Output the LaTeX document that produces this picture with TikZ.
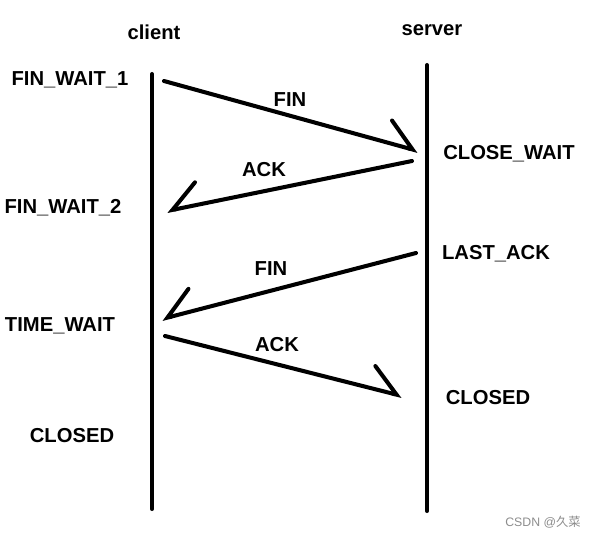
\documentclass[tikz,border=0pt]{standalone}
\usepackage{fontspec}
\setmainfont{Liberation Sans}
\newfontfamily\cjkfont{Noto Sans CJK SC}
\usetikzlibrary{arrows.meta}

\tikzset{
    lifeline/.style={line width=2.3pt, line cap=round},
    msg/.style={line width=2.3pt, line cap=round,
        -{Straight Barb[harpoon, length=0.55cm, width=0.9cm, line cap=round]}},
    msgswap/.style={line width=2.3pt, line cap=round,
        -{Straight Barb[harpoon, swap, length=0.55cm, width=0.9cm, line cap=round]}},
    lbl/.style={font=\fontsize{11.5}{13}\selectfont\bfseries, inner sep=0pt}
}

\begin{document}
\begin{tikzpicture}[x=0.02cm, y=-0.02cm]
    \useasboundingbox (0,0) rectangle (589,538);

    % lifelines
    \coordinate (ctop) at (152,74);
    \coordinate (cbot) at (152,509);
    \coordinate (stop) at (427,65);
    \coordinate (sbot) at (427,511);
    \draw[lifeline] (ctop) -- (cbot);
    \draw[lifeline] (stop) -- (sbot);

    \node[lbl] (client) at (154,32) {client};
    \node[lbl] (server) at (432,30) {server};

    % states
    \node[lbl] (finwaita) at (70,80) {FIN\_WAIT\_1};
    \node[lbl] (finwaitb) at (63,208) {FIN\_WAIT\_2};
    \node[lbl] (timewait) at (60,326) {TIME\_WAIT};
    \node[lbl] (cclosed) at (72,436) {CLOSED};
    \node[lbl] (closewait) at (509,154) {CLOSE\_WAIT};
    \node[lbl] (lastack) at (496,254) {LAST\_ACK};
    \node[lbl] (sclosed) at (488,398) {CLOSED};

    % message ends
    \coordinate (m1a) at (164,81);
    \coordinate (m1b) at (418,151);
    \coordinate (m2a) at (412,161);
    \coordinate (m2b) at (167,211);
    \coordinate (m3a) at (416,253);
    \coordinate (m3b) at (162,319);
    \coordinate (m4a) at (165,336);
    \coordinate (m4b) at (402,396);

    \draw[msg] (m1a) -- (m1b);
    \draw[msgswap] (m2a) -- (m2b);
    \draw[msgswap] (m3a) -- (m3b);
    \draw[msg] (m4a) -- (m4b);

    \node[lbl] (fina) at (290,100) {FIN};
    \node[lbl] (acka) at (264,170) {ACK};
    \node[lbl] (finb) at (271,269) {FIN};
    \node[lbl] (ackb) at (277,345) {ACK};

    \node[font=\fontsize{7}{8}\selectfont, text=black!45, inner sep=0pt] (mark) at (543,522) {CSDN @{\cjkfont 久菜}};
\end{tikzpicture}
\end{document}
